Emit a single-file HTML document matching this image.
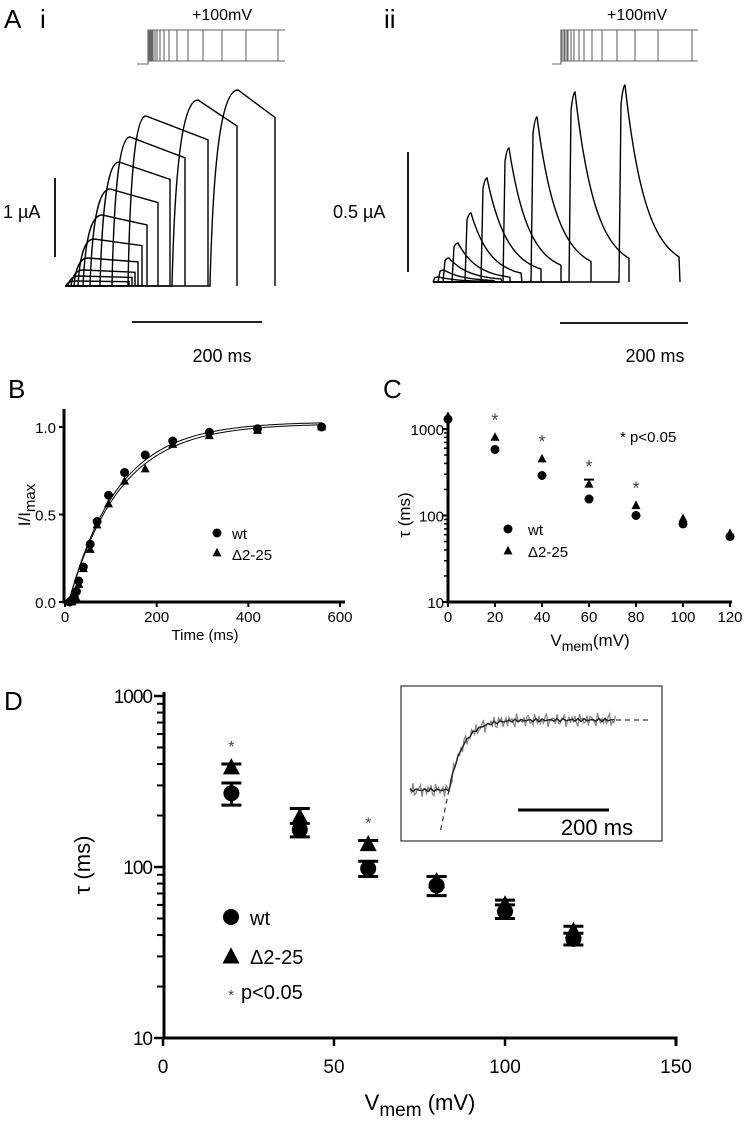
<!DOCTYPE html>
<html><head><meta charset="utf-8"><style>
body{margin:0;background:#fff}
svg{display:block;font-family:"Liberation Sans",sans-serif}
</style></head><body>
<svg id="fig" width="750" height="1122" viewBox="0 0 750 1122" xmlns="http://www.w3.org/2000/svg">
<g id="A" fill="none" stroke="#000" stroke-width="1.4"></g>
<g id="B"></g>
<g id="C"></g>
<g id="D"></g>
</svg>
<script>
// ---- Panel A i traces
const aiRiseX=[66,68,71,74,78,83,90,100,112,128,172,210];
const aiPeakX=[76,79,83,88,94,102,110,119,130,146,198,238];
const aiPeakY=[281,276,270,258,239,215,189,162,137,116,100,90];
const aiEndX=[129,132,135,138,142,147,158,170,185,208,237,275];
// ---- Panel A ii traces
const aiiPeakX=[437,442,447,456,469,485,507,535,573,623];
const aiiPeakY=[277,270,258,243,213,178,148,117,92,85];
const aiiEndX=[490,495,502,510,522,541,561,591,629,680];
const stepLinesI=[148,149,150,151,152,153,155,157,160,164,169,177,188,203,222,246,278];
const stepLinesII=[561,562,564,565,567,568,571,574,579,584,592,602,617,635,658,692];
// ---- Panel B
const bTimes=[10,15,20,25,30,40,55,70,95,130,175,235,315,420,560];
const bWt=[0.0,0.01,0.03,0.06,0.12,0.2,0.33,0.46,0.61,0.74,0.84,0.92,0.97,0.99,1.0];
const bDel=[0.0,0.0,0.01,0.02,0.1,0.19,0.3,0.44,0.56,0.69,0.76,0.9,0.95,0.98,1.0];
const bFitTau=[108,112];
const bFitAmp=[1.03,1.02];
const bXTicks=[0,200,400,600];
const bYTicks=[0,0.5,1.0];
// ---- Panel C
const cV=[0,20,40,60,80,100,120];
const cWt=[1300,580,290,155,100,80,57];
const cDel=[1400,800,450,230,130,92,62];
const cStars=[20,40,60,80];
const cXTicks=[0,20,40,60,80,100,120];
// ---- Panel D
const dV=[20,40,60,80,100,120];
const dWt=[270,165,98,78,55,38];
const dWtErr=[40,15,10,10,5,3];
const dDel=[380,195,135,82,60,42];
const dDelErr=[20,25,8,6,4,3];
const dStars=[20,60];
const dXTicks=[0,50,100,150];

const NS="http://www.w3.org/2000/svg";
function mk(parent,tag,attrs,text){const e=document.createElementNS(NS,tag);for(const k in attrs)e.setAttribute(k,attrs[k]);if(text!==undefined)e.textContent=text;parent.appendChild(e);return e;}

// ===== Panel A =====
const A=document.getElementById('A');
let t;
t=mk(A,'text',{x:4,y:28,'font-size':26,fill:'#000',stroke:'none'},'A');


t=mk(A,'text',{x:40,y:28,'font-size':26,fill:'#000',stroke:'none'},'i');


t=mk(A,'text',{x:384,y:28,'font-size':26,fill:'#000',stroke:'none'},'ii');


function protocol(x0,x1,xb,lines,lab){
  const g=mk(A,'g',{stroke:'#666','stroke-width':1.1});
  
  
  mk(g,'path',{d:`M${xb} 64 H${x0} V30 H${x1} M${x0} 61 H${x1}`});
  lines.forEach(x=>mk(g,'line',{x1:x,y1:30,x2:x,y2:61}));
}
protocol(148,285,137,stepLinesI,'voltage-protocol-i');
protocol(561,698,552,stepLinesII,'voltage-protocol-ii');
t=mk(A,'text',{x:222,y:20,'font-size':16,'text-anchor':'middle',fill:'#000',stroke:'none'},'+100mV');


t=mk(A,'text',{x:637,y:20,'font-size':16,'text-anchor':'middle',fill:'#000',stroke:'none'},'+100mV');


const baseI=286;
aiPeakX.forEach((xp,i)=>{
  const yp=aiPeakY[i],xe=aiEndX[i],xs=aiRiseX[i];
  const ye=yp+(baseI-yp)*0.14;
  const d=`M65 ${baseI} L${xs} ${baseI} C${xs+(xp-xs)*0.12} ${yp+(baseI-yp)*0.3} ${xs+(xp-xs)*0.45} ${yp} ${xp} ${yp} L${xe} ${ye} L${xe} ${baseI}`;
  const p=mk(A,'path',{d});
  
  
});
const baseII=282;
aiiPeakX.forEach((xp,i)=>{
  const H=baseII-aiiPeakY[i],xe=aiiEndX[i],tau=(xe-xp)*0.36;
  let d=`M433 ${baseII} L${xp-4} ${baseII} L${xp-2} ${baseII-H*0.9} Q${xp} ${baseII-H} ${xp+2} ${baseII-H}`;
  for(let x=xp+4;x<=xe;x+=2){d+=` L${x} ${(baseII-H*(0.06+0.94*Math.exp(-(x-xp-2)/tau))).toFixed(1)}`;}
  d+=` L${xe} ${baseII}`;
  const p=mk(A,'path',{d});
  
  
});
[[55,178,55,257],[132,322,262,322],[408,152,408,272],[560,323,688,323]].forEach(s=>{
  const l=mk(A,'line',{x1:s[0],y1:s[1],x2:s[2],y2:s[3],'stroke-width':1.8});
  
  
});
[[3,218,'1 µA','start'],[333,218,'0.5 µA','start'],[222,362,'200 ms','middle'],[655,362,'200 ms','middle']].forEach(s=>{
  const e=mk(A,'text',{x:s[0],y:s[1],'font-size':18,'text-anchor':s[3],fill:'#000',stroke:'none'},s[2]);
  
  
});

function circ(g,x,y,r,name){const c=mk(g,'circle',{cx:x,cy:y,r,fill:'#000'});return c;}
function tri(g,x,y,s,name){const h=s*0.95;const p=mk(g,'path',{d:`M${x} ${y-h*0.6} L${x+s/2} ${y+h*0.4} L${x-s/2} ${y+h*0.4}Z`,fill:'#000'});return p;}
function txt(g,x,y,s,size,anchor,name,extra){const e=mk(g,'text',Object.assign({x,y,'font-size':size,'text-anchor':anchor||'start',fill:'#000'},extra||{}),s);return e;}

// ===== Panel B =====
const B=document.getElementById('B');
const bx=v=>65+v*(340-65)/600, by=v=>602-v*(602-427);
txt(B,8,398,'B',26,'start','panel-b-label');
mk(B,'path',{d:`M64 409 V602 H345`,fill:'none',stroke:'#000','stroke-width':3});
bXTicks.forEach(v=>{mk(B,'line',{x1:bx(v),y1:602,x2:bx(v),y2:607,stroke:'#000','stroke-width':2});txt(B,bx(v),622,String(v),15,'middle','x-tick-label');});
bYTicks.forEach(v=>{mk(B,'line',{x1:59,y1:by(v),x2:64,y2:by(v),stroke:'#000','stroke-width':2});txt(B,56,by(v)+6,v.toFixed(1),15,'end','y-tick-label');});
txt(B,205,640,'Time (ms)',15,'middle','x-axis-title');
const yl=mk(B,'text',{transform:'translate(30,505) rotate(-90)','font-size':17,'text-anchor':'middle',fill:'#000'});

yl.innerHTML='I/I<tspan dy="5" font-size="15">max</tspan>';
bFitTau.forEach((tau,k)=>{let d='';for(let tt=8;tt<=560;tt+=4){const v=bFitAmp[k]*(1-Math.exp(-(tt-8)/tau));d+=(d?' L':'M')+bx(tt).toFixed(1)+' '+by(v).toFixed(1);}
  const p=mk(B,'path',{d,fill:'none',stroke:'#000','stroke-width':1});});
bTimes.forEach((tt,i)=>{tri(B,bx(tt),by(bDel[i]),9,'point-delta');circ(B,bx(tt),by(bWt[i]),4.5,'point-wt');});
circ(B,217,533,4.5,'legend-wt-marker');txt(B,232,539,'wt',15,'start','legend-wt');
tri(B,217,553,9,'legend-delta-marker');txt(B,232,560,'Δ2-25',15,'start','legend-delta');

// ===== Panel C =====
const C=document.getElementById('C');
const cx=v=>448+v*(730-448)/120, cy=v=>602-(Math.log10(v)-1)*86.5;
txt(C,383,398,'C',26,'start','panel-c-label');
mk(C,'path',{d:`M448 418 V602 H732`,fill:'none',stroke:'#000','stroke-width':3});
[10,100,1000].forEach(v=>{mk(C,'line',{x1:442,y1:cy(v),x2:448,y2:cy(v),stroke:'#000','stroke-width':2});txt(C,444,cy(v)+6,String(v),15,'end','y-tick-label');});
[1,10,100].forEach(dec=>{for(let m=2;m<=9;m++){const v=dec*m*10;if(cy(v)<418)continue;mk(C,'line',{x1:444,y1:cy(v),x2:448,y2:cy(v),stroke:'#000','stroke-width':1.5});}});
cXTicks.forEach(v=>{mk(C,'line',{x1:cx(v),y1:602,x2:cx(v),y2:607,stroke:'#000','stroke-width':2});txt(C,cx(v),622,String(v),15,'middle','x-tick-label');});
const cxl=txt(C,590,646,'',17,'middle','x-axis-title');cxl.innerHTML='V<tspan dy="5" font-size="14">mem</tspan><tspan dy="-5">(mV)</tspan>';
const cyl=mk(C,'text',{transform:'translate(410,515) rotate(-90)','font-size':17,'text-anchor':'middle',fill:'#000'},'τ (ms)');

cV.forEach((v,i)=>{tri(C,cx(v),cy(cDel[i]),9,'point-delta');circ(C,cx(v),cy(cWt[i]),4.5,'point-wt');});
mk(C,'line',{x1:cx(60)-5,y1:cy(260),x2:cx(60)+5,y2:cy(260),stroke:'#000','stroke-width':2});
cStars.forEach(v=>{const i=cV.indexOf(v);txt(C,cx(v),cy(cDel[i])-11,'*',18,'middle','significance-star',{fill:'#444'});});
txt(C,620,442,'* p<0.05',15,'start','significance-note');
circ(C,508,529,4.5,'legend-wt-marker');txt(C,528,535,'wt',15,'start','legend-wt');
tri(C,508,551,9,'legend-delta-marker');txt(C,528,557,'Δ2-25',15,'start','legend-delta');

// ===== Panel D =====
const D=document.getElementById('D');
const dx=v=>163+v*(676-163)/150, dy=v=>1038-(Math.log10(v)-1)*171;
txt(D,4,710,'D',26,'start','panel-d-label');
mk(D,'path',{d:`M164 692 V1038 H676 V1046`,fill:'none',stroke:'#000','stroke-width':3});
[10,100,1000].forEach(v=>{mk(D,'line',{x1:154,y1:dy(v),x2:164,y2:dy(v),stroke:'#000','stroke-width':2.5});txt(D,152,dy(v)+7,String(v),19,'end','y-tick-label',{'letter-spacing':'-1'});});
[1,10].forEach(dec=>{for(let m=2;m<=9;m++){const v=dec*m*10;mk(D,'line',{x1:157,y1:dy(v),x2:164,y2:dy(v),stroke:'#000','stroke-width':2});}});
dXTicks.forEach(v=>{mk(D,'line',{x1:dx(v),y1:1038,x2:dx(v),y2:1046,stroke:'#000','stroke-width':2.5});txt(D,dx(v),1073,String(v),19,'middle','x-tick-label');});
const dxl=txt(D,420,1110,'',22,'middle','x-axis-title');dxl.innerHTML='V<tspan dy="6" font-size="19">mem</tspan><tspan dy="-6"> (mV)</tspan>';
const dyl=mk(D,'text',{transform:'translate(90,865) rotate(-90)','font-size':22,'text-anchor':'middle',fill:'#000'},'τ  (ms)');

dV.forEach((v,i)=>{
  const x=dx(v);
  const e1=mk(D,'path',{d:`M${x-10} ${dy(dWt[i]+dWtErr[i])} H${x+10} M${x} ${dy(dWt[i]+dWtErr[i])} V${dy(dWt[i]-dWtErr[i])} M${x-10} ${dy(dWt[i]-dWtErr[i])} H${x+10}`,stroke:'#000','stroke-width':3,fill:'none'});
  
  const e2=mk(D,'path',{d:`M${x-10} ${dy(dDel[i]+dDelErr[i])} H${x+10} M${x} ${dy(dDel[i]+dDelErr[i])} V${dy(dDel[i])}`,stroke:'#000','stroke-width':3,fill:'none'});
  
  circ(D,x,dy(dWt[i]),8,'point-wt');tri(D,x,dy(dDel[i]),17,'point-delta');
});
dStars.forEach(v=>{const i=dV.indexOf(v);txt(D,dx(v),dy(dDel[i])-16,'*',16,'middle','significance-star',{fill:'#444'});});
circ(D,231,917,8,'legend-wt-marker');txt(D,250,925,'wt',20,'start','legend-wt');
tri(D,231,957,17,'legend-delta-marker');txt(D,250,964,'Δ2-25',20,'start','legend-delta');
txt(D,231,1000,'*',15,'middle','legend-star',{fill:'#444'});txt(D,241,999,'p<0.05',20,'start','significance-note');
const ins=mk(D,'g',{});
mk(ins,'rect',{x:401,y:686,width:261,height:155,fill:'#fff',stroke:'#333','stroke-width':1.2});
function insY(x){if(x<449)return 790;const u=x-449;return 720+70*Math.exp(-u/14);}
let g1='',g2='';
for(let x=410;x<=616;x+=1.5){const n=Math.sin(x*1.7)*4+Math.sin(x*3.1)*3+Math.sin(x*0.7)*2;g1+=(g1?' L':'M')+x.toFixed(1)+' '+(insY(x)+n).toFixed(1);}
for(let x=410;x<=616;x+=3){g2+=(g2?' L':'M')+x+' '+(insY(x)+Math.sin(x*0.9)*1.5).toFixed(1);}
mk(ins,'path',{d:g1,fill:'none',stroke:'#888','stroke-width':1.3});
mk(ins,'path',{d:g2,fill:'none',stroke:'#222','stroke-width':1.4});
mk(ins,'path',{d:'M616 720 H652 M449 790 L440 833',fill:'none',stroke:'#333','stroke-width':1.2,'stroke-dasharray':'5 4'});
mk(ins,'line',{x1:518,y1:810,x2:609,y2:810,stroke:'#000','stroke-width':3});
txt(D,597,835,'200 ms',22,'middle','inset-scale-label');
</script>
</body></html>
